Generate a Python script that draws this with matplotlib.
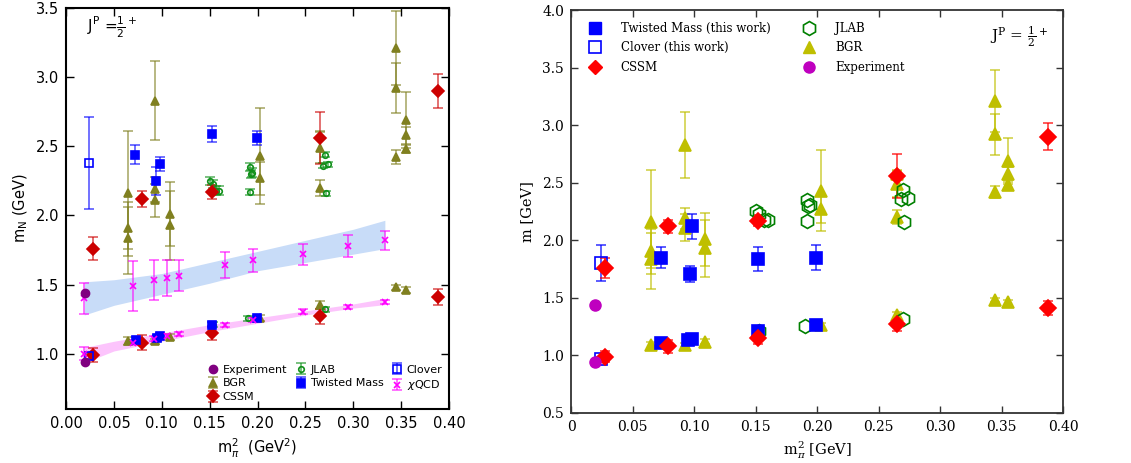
import matplotlib
matplotlib.use('Agg')
import matplotlib.pyplot as plt
from matplotlib.colors import to_rgba
from matplotlib.lines import Line2D

# pion mass squared [GeV^2], nucleon masses [GeV] and errors

exp_x = [0.0195, 0.0195]
exp_m = [0.939, 1.44]

cssm_x = [0.028, 0.028, 0.079, 0.079, 0.152, 0.152, 0.265, 0.265, 0.388, 0.388]
cssm_m = [0.99, 1.76, 1.08, 2.12, 1.15, 2.17, 1.27, 2.56, 1.41, 2.90]
cssm_err = [0.05, 0.085, 0.055, 0.06, 0.05, 0.05, 0.055, 0.19, 0.06, 0.12]

bgr_x = [0.065, 0.065, 0.065, 0.065, 0.093, 0.093, 0.093, 0.093,
         0.109, 0.109, 0.109, 0.203, 0.203, 0.203,
         0.265, 0.265, 0.265, 0.265, 0.345, 0.345, 0.345, 0.345,
         0.355, 0.355, 0.355, 0.355]
bgr_m = [1.09, 1.84, 1.91, 2.16, 1.09, 2.11, 2.19, 2.83,
         1.12, 1.93, 2.01, 1.26, 2.27, 2.43,
         1.35, 2.20, 2.49, 2.58, 1.48, 2.42, 2.92, 3.21,
         1.46, 2.48, 2.58, 2.69]
bgr_err = [0.03, 0.26, 0.15, 0.45, 0.02, 0.12, 0.09, 0.285,
           0.02, 0.25, 0.23, 0.02, 0.12, 0.35,
           0.03, 0.06, 0.11, 0.03, 0.02, 0.05, 0.18, 0.27,
           0.02, 0.03, 0.06, 0.20]

jlab_x = [0.153, 0.190, 0.270, 0.150, 0.153, 0.157, 0.160,
          0.192, 0.193, 0.194, 0.192, 0.270, 0.268, 0.274, 0.271]
jlab_m = [1.21, 1.255, 1.32, 2.25, 2.23, 2.18, 2.18,
          2.35, 2.30, 2.31, 2.17, 2.44, 2.36, 2.37, 2.16]
jlab_err = [0.02, 0.02, 0.02, 0.03, 0.03, 0.03, 0.03,
            0.03, 0.03, 0.03, 0.02, 0.02, 0.02, 0.02, 0.02]

# twisted mass / clover, left figure
tm_l_x = [0.073, 0.095, 0.098, 0.152, 0.199, 0.072, 0.094, 0.098, 0.152, 0.199]
tm_l_m = [1.10, 1.115, 1.13, 1.21, 1.255, 2.44, 2.25, 2.37, 2.59, 2.56]
tm_l_err = [0.02, 0.02, 0.02, 0.02, 0.02, 0.07, 0.10, 0.05, 0.06, 0.05]
cl_l_x = [0.024, 0.024]
cl_l_m = [0.985, 2.38]
cl_l_err = [0.02, 0.33]

# twisted mass / clover, right figure
tm_r_x = [0.073, 0.095, 0.098, 0.152, 0.199, 0.073, 0.097, 0.098, 0.152, 0.199]
tm_r_m = [1.11, 1.13, 1.145, 1.21, 1.26, 1.85, 1.71, 2.12, 1.84, 1.85]
tm_r_err = [0.02, 0.02, 0.02, 0.02, 0.02, 0.095, 0.07, 0.11, 0.105, 0.105]
cl_r_x = [0.024, 0.024]
cl_r_m = [0.97, 1.80]
cl_r_err = [0.02, 0.155]

chi_x = [0.019, 0.070, 0.092, 0.105, 0.118, 0.166, 0.195, 0.248, 0.295, 0.333]
chi_lo_m = [1.00, 1.08, 1.11, 1.13, 1.145, 1.21, 1.245, 1.305, 1.34, 1.375]
chi_lo_err = [0.045, 0.02, 0.02, 0.015, 0.015, 0.015, 0.015, 0.015, 0.015, 0.015]
chi_hi_m = [1.40, 1.49, 1.535, 1.55, 1.565, 1.64, 1.675, 1.72, 1.78, 1.82]
chi_hi_err = [0.11, 0.18, 0.145, 0.13, 0.115, 0.095, 0.085, 0.075, 0.08, 0.07]

# chiral fit bands
band_x = [0.019, 0.05, 0.10, 0.15, 0.20, 0.25, 0.30, 0.333]
roper_hi = [1.52, 1.535, 1.58, 1.66, 1.74, 1.82, 1.90, 1.965]
roper_lo = [1.28, 1.35, 1.43, 1.51, 1.60, 1.66, 1.72, 1.76]
nuc_hi = [1.045, 1.09, 1.15, 1.21, 1.26, 1.31, 1.36, 1.40]
nuc_lo = [0.935, 1.02, 1.09, 1.16, 1.22, 1.28, 1.33, 1.355]


def ebar(ax, x, y, err, color, marker, ms, open_marker=False, ealpha=0.65,
         lw=1.2, cap=3.5, z=3):
    return ax.errorbar(x, y, yerr=err, fmt=marker, color=color,
                       mfc='none' if open_marker else color, mec=color,
                       mew=1.2, ms=ms, ecolor=to_rgba(color, ealpha),
                       elinewidth=lw, capsize=cap, capthick=lw, zorder=z)


fig = plt.figure(figsize=(11.31, 4.63), dpi=100)

# ---------------- left: sans serif, with chiQCD ----------------
axl = fig.add_axes([0.0584, 0.1166, 0.3386, 0.866])

axl.fill_between(band_x, roper_lo, roper_hi, color='#c8dcf8', lw=0, zorder=1)
axl.fill_between(band_x, nuc_lo, nuc_hi, color='#fcc4fc', lw=0, zorder=1)

purple = '#800080'
olive = '#808020'
red_l = '#cc0000'
green_l = '#10901a'
blue_l = '#0000ff'
magenta = '#ff00ff'

h_bgr = ebar(axl, bgr_x, bgr_m, bgr_err, olive, '^', 6)
h_jlab = ebar(axl, jlab_x, jlab_m, jlab_err, green_l, 'o', 4, open_marker=True)
h_cssm = ebar(axl, cssm_x, cssm_m, cssm_err, red_l, 'D', 6)
h_tm = ebar(axl, tm_l_x, tm_l_m, tm_l_err, blue_l, 's', 6)
h_cl = ebar(axl, cl_l_x, cl_l_m, cl_l_err, blue_l, 's', 6, open_marker=True)
ebar(axl, chi_x, chi_lo_m, chi_lo_err, magenta, 'x', 5)
h_chi = ebar(axl, chi_x, chi_hi_m, chi_hi_err, magenta, 'x', 5)
h_exp, = axl.plot(exp_x, exp_m, 'o', color=purple, ms=6, ls='none', zorder=4)

axl.set_xlim(0, 0.40)
axl.set_ylim(0.6, 3.5)
axl.set_xticks([0.0, 0.05, 0.10, 0.15, 0.20, 0.25, 0.30, 0.35, 0.40])
axl.set_xticklabels(['0.00', '0.05', '0.10', '0.15', '0.20', '0.25', '0.30', '0.35', '0.40'])
axl.set_yticks([1.0, 1.5, 2.0, 2.5, 3.0, 3.5])
axl.tick_params(direction='in', top=True, right=True, length=6, width=1, labelsize=10.5, pad=5)
for s in axl.spines.values():
    s.set_linewidth(1.5)
axl.set_xlabel(r'm$_\pi^2$  (GeV$^2$)', fontsize=10.5)
axl.set_ylabel(r'm$_\mathrm{N}$ (GeV)', fontsize=10.5, labelpad=4)
axl.text(0.022, 3.33, r'J$^\mathrm{P}$ =$\frac{1}{2}^+$', fontsize=11)

axl.legend([h_exp, h_bgr, h_cssm, h_jlab, h_tm, h_cl, h_chi],
           ['Experiment', 'BGR', 'CSSM', 'JLAB', 'Twisted Mass', 'Clover', r'$\chi$QCD'],
           ncol=3, loc='lower right', fontsize=8, frameon=False,
           handletextpad=0.3, columnspacing=0.6, labelspacing=0.35,
           handlelength=1.2, borderaxespad=0.2)

# ---------------- right: serif, markers only in legend ----------------
axr = fig.add_axes([0.5049, 0.108, 0.435, 0.8704])

blue = '#0000ff'
red = '#ff0000'
green = '#008000'
yellow = '#bfbf00'
violet = '#bf00bf'

ebar(axr, bgr_x, bgr_m, bgr_err, yellow, '^', 8, ealpha=0.7)
ebar(axr, jlab_x, jlab_m, jlab_err, green, 'h', 10, open_marker=True, ealpha=0.0)
ebar(axr, tm_r_x, tm_r_m, tm_r_err, blue, 's', 8, ealpha=0.75)
ebar(axr, cl_r_x, cl_r_m, cl_r_err, blue, 's', 8, open_marker=True, ealpha=0.75)
ebar(axr, cssm_x, cssm_m, cssm_err, red, 'D', 8, ealpha=0.75)
axr.plot(exp_x, exp_m, 'o', color=violet, ms=8, ls='none', zorder=4)

serif = ['DejaVu Serif']
axr.set_xlim(0, 0.40)
axr.set_ylim(0.5, 4.0)
axr.set_xticks([0.0, 0.05, 0.10, 0.15, 0.20, 0.25, 0.30, 0.35, 0.40])
axr.set_xticklabels(['0', '0.05', '0.10', '0.15', '0.20', '0.25', '0.30', '0.35', '0.40'],
                    family=serif)
axr.set_yticks([0.5, 1.0, 1.5, 2.0, 2.5, 3.0, 3.5, 4.0])
axr.set_yticklabels(['0.5', '1.0', '1.5', '2.0', '2.5', '3.0', '3.5', '4.0'], family=serif)
axr.tick_params(direction='in', top=True, right=True, length=5, width=1,
                labelsize=10, color='#333333', pad=5)
for s in axr.spines.values():
    s.set_linewidth(1.3)
    s.set_color('#333333')
axr.set_xlabel(r'm$_\pi^2$ [GeV]', fontsize=10.5, family=serif, math_fontfamily='dejavuserif')
axr.set_ylabel('m [GeV]', fontsize=10.5, family=serif, labelpad=6)
axr.text(0.97, 0.965, r'J$^\mathrm{P}$ = $\frac{1}{2}^+$', transform=axr.transAxes,
         ha='right', va='top', fontsize=11, family=serif, math_fontfamily='dejavuserif')

proxies = [
    Line2D([], [], ls='none', marker='s', ms=8, color=blue),
    Line2D([], [], ls='none', marker='s', ms=8, color=blue, mfc='none', mew=1.2),
    Line2D([], [], ls='none', marker='D', ms=7, color=red),
    Line2D([], [], ls='none', marker='h', ms=10, color=green, mfc='none', mew=1.2),
    Line2D([], [], ls='none', marker='^', ms=8, color=yellow),
    Line2D([], [], ls='none', marker='o', ms=8, color=violet),
]
axr.legend(proxies, ['Twisted Mass (this work)', 'Clover (this work)', 'CSSM',
                     'JLAB', 'BGR', 'Experiment'],
           ncol=2, loc='upper left', frameon=False, prop={'family': serif, 'size': 8.5},
           handletextpad=1.2, columnspacing=2.3, labelspacing=0.55, borderaxespad=0.6)

fig.savefig('out.png', dpi=100)
